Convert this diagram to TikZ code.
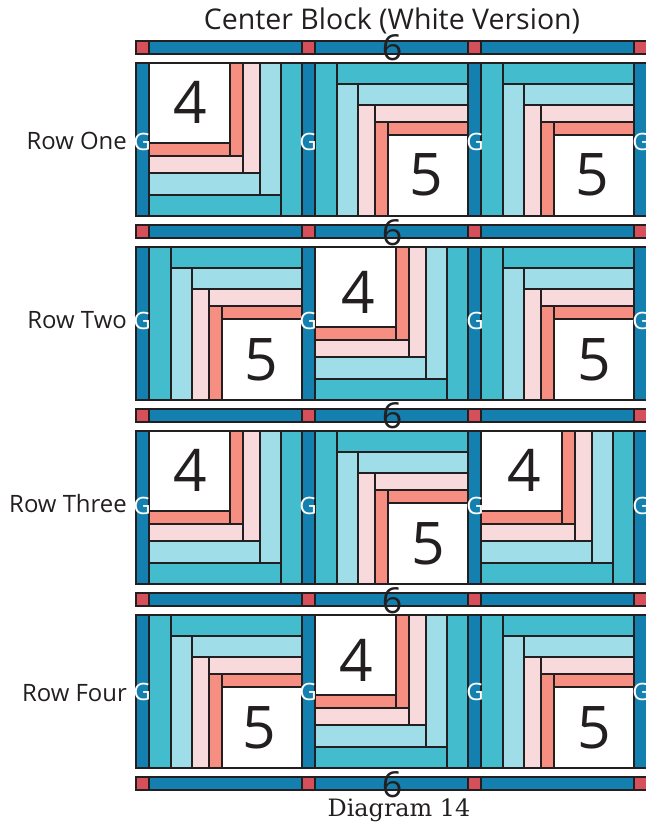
\documentclass[tikz,border=0pt]{standalone}
\usepackage{fontspec}
\setmainfont{Open Sans}
\newfontfamily\slabfont{DejaVu Serif}
\definecolor{sashblue}{HTML}{1380B0}
\definecolor{stonered}{HTML}{D5505A}
\definecolor{logteal}{HTML}{43BCCD}
\definecolor{logaqua}{HTML}{9FDDE9}
\definecolor{logpink}{HTML}{F8DADC}
\definecolor{logsalmon}{HTML}{F68E82}
\definecolor{inkdark}{HTML}{231F20}
\begin{document}
\begin{tikzpicture}[
    x=1bp,
    y=-1bp,
    patch/.style={draw=inkdark, line width=1.1bp},
    piecelabel/.style={text=inkdark, font=\fontsize{59}{59}\selectfont, inner sep=0pt},
    sashlabel/.style={text=inkdark, font=\fontsize{36}{36}\selectfont, inner sep=0pt},
    glabel/.style={text=white, font=\fontsize{24}{24}\selectfont, inner sep=0pt},
    rowlabel/.style={text=inkdark, font=\fontsize{24}{24}\selectfont, anchor=east, inner sep=0pt},
    blockfour/.pic={
        \draw[patch, fill=logteal] (132,0) rectangle (153,153);
        \draw[patch, fill=logteal] (0,132) rectangle (132,153);
        \draw[patch, fill=logaqua] (111,0) rectangle (132,132);
        \draw[patch, fill=logaqua] (0,110) rectangle (111,132);
        \draw[patch, fill=logpink] (94,0) rectangle (111,110);
        \draw[patch, fill=logpink] (0,93) rectangle (94,110);
        \draw[patch, fill=logsalmon] (81,0) rectangle (94,93);
        \draw[patch, fill=logsalmon] (0,80) rectangle (81,93);
        \draw[patch, fill=white] (0,0) rectangle (81,80);
    },
    blockfive/.pic={
        \draw[patch, fill=logteal] (0,0) rectangle (22,153);
        \draw[patch, fill=logteal] (22,0) rectangle (153,21);
        \draw[patch, fill=logaqua] (22,21) rectangle (43,153);
        \draw[patch, fill=logaqua] (43,21) rectangle (153,42);
        \draw[patch, fill=logpink] (43,42) rectangle (60,153);
        \draw[patch, fill=logpink] (60,42) rectangle (153,59);
        \draw[patch, fill=logsalmon] (60,59) rectangle (73,153);
        \draw[patch, fill=logsalmon] (73,59) rectangle (153,72);
        \draw[patch, fill=white] (73,72) rectangle (153,153);
    }
]
\path[use as bounding box] (0,0) rectangle (646,826);

% sashing strips
\foreach \y in {41,225,409,593,777} {
    \foreach \x in {136,302,468,634} {
        \draw[patch, fill=stonered] (\x,\y) rectangle (\x+13,\y+13);
    }
    \foreach \x in {149,315,481} {
        \draw[patch, fill=sashblue] (\x,\y) rectangle (\x+153,\y+13);
    }
}
% vertical sashing
\foreach \y in {63,247,431,615} {
    \foreach \x in {136,302,468,634} {
        \draw[patch, fill=sashblue] (\x,\y) rectangle (\x+13,\y+153);
    }
}

% blocks
\pic at (149,63) {blockfour};
\pic at (315,63) {blockfive};
\pic at (481,63) {blockfive};
\pic at (149,247) {blockfive};
\pic at (315,247) {blockfour};
\pic at (481,247) {blockfive};
\pic at (149,431) {blockfour};
\pic at (315,431) {blockfive};
\pic at (481,431) {blockfour};
\pic at (149,615) {blockfive};
\pic at (315,615) {blockfour};
\pic at (481,615) {blockfive};

% piece numbers
\node[piecelabel] (r1a) at (190,102) {4};
\node[piecelabel] (r1b) at (426,175) {5};
\node[piecelabel] (r1c) at (592,175) {5};
\node[piecelabel] (r2a) at (261,360) {5};
\node[piecelabel] (r2b) at (358,292) {4};
\node[piecelabel] (r2c) at (594,360) {5};
\node[piecelabel] (r3a) at (190,470) {4};
\node[piecelabel] (r3b) at (428,544) {5};
\node[piecelabel] (r3c) at (524,470) {4};
\node[piecelabel] (r4a) at (259,728) {5};
\node[piecelabel] (r4b) at (356,660) {4};
\node[piecelabel] (r4c) at (594,728) {5};

% sashing numbers
\node[sashlabel] (s1) at (392,48) {6};
\node[sashlabel] (s2) at (392,233) {6};
\node[sashlabel] (s3) at (392,416) {6};
\node[sashlabel] (s4) at (392,601) {6};
\node[sashlabel] (s5) at (392,785) {6};

% G letters
\foreach \y/\n in {142/1,321/2,506/3,692/4} {
    \foreach \x/\c in {142/a,308/b,475/c,641/d} {
        \node[glabel] (g\n\c) at (\x,\y) {G};
    }
}

% row names
\node[rowlabel] (rowone) at (127,141) {Row One};
\node[rowlabel] (rowtwo) at (127,320) {Row Two};
\node[rowlabel] (rowthree) at (127,504) {Row Three};
\node[rowlabel] (rowfour) at (127,693) {Row Four};

\node[text=inkdark, font=\fontsize{28.6}{28.6}\selectfont, inner sep=0pt] (title) at (392,21) {Center Block (White Version)};
\node[text=inkdark, font=\slabfont\fontsize{24}{24}\selectfont, inner sep=0pt] (caption) at (399,810) {Diagram 14};

\end{tikzpicture}
\end{document}
